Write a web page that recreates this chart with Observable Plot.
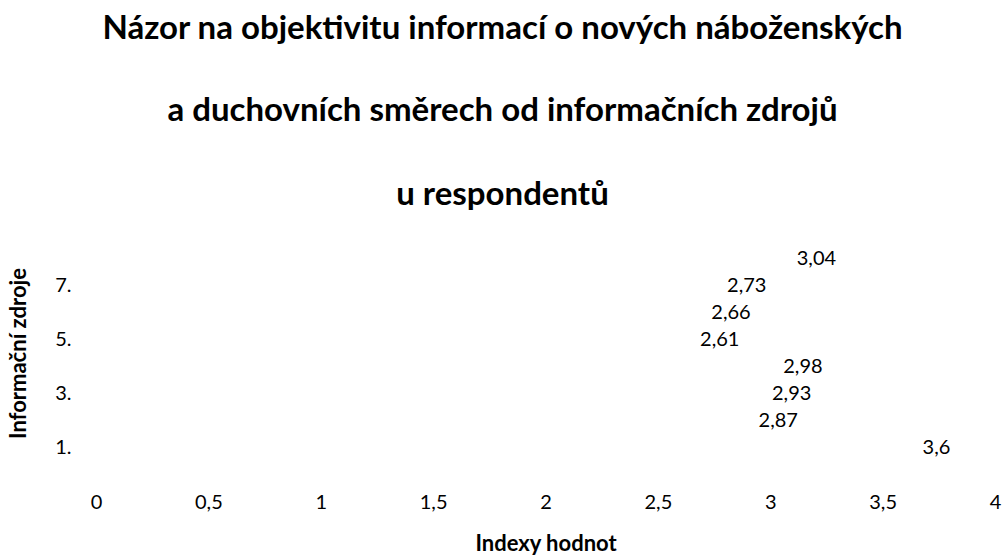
<!DOCTYPE html>
<html>
<head>
<meta charset="utf-8">
<script src="https://cdn.jsdelivr.net/npm/d3@7"></script>
<script src="https://cdn.jsdelivr.net/npm/@observablehq/plot@0.6"></script>
<style>
  html, body { margin: 0; padding: 0; background: #fff; }
  body { width: 1005px; height: 559px; overflow: hidden; font-family: Lato, "Open Sans", sans-serif; }
  #title { position: relative; height: 230px; width: 1005px; }
  #title div { position: absolute; left: 0; width: 1005px; text-align: center; font-weight: bold; font-size: 33px; line-height: 40px; color: #000; white-space: nowrap; }
</style>
</head>
<body>
<div id="title"></div>
<div id="chart"></div>
<script>
const titleLines = [
  "Názor na objektivitu informací o nových náboženských",
  "a duchovních směrech od informačních zdrojů",
  "u respondentů"
];
const categories = ["1.", "2.", "3.", "4.", "5.", "6.", "7.", "8."];
const values = [3.6, 2.87, 2.93, 2.98, 2.61, 2.66, 2.73, 3.04];
const yTicks = ["1.", "3.", "5.", "7."];
const xTicks = [0, 0.5, 1, 1.5, 2, 2.5, 3, 3.5, 4];
const xTitle = "Indexy hodnot";
const yTitle = "Informační zdroje";

const titleTops = [6, 88, 172];
const tEl = document.getElementById("title");
titleLines.forEach((t, i) => {
  const d = document.createElement("div");
  d.textContent = t;
  d.style.top = titleTops[i] + "px";
  tEl.appendChild(d);
});

const data = categories.map((c, i) => ({cat: c, value: values[i]}));
const fmt = v => String(v).replace(".", ",");

const chart = Plot.plot({
  width: 1005,
  height: 329,
  marginLeft: 96,
  marginRight: 10,
  marginTop: 11.6,
  marginBottom: 94.5,
  style: {fontFamily: "Lato, 'Open Sans', sans-serif", fontSize: "20px", color: "#000", background: "#fff"},
  x: {domain: [0, 4]},
  y: {domain: categories.slice().reverse(), padding: 0},
  marks: [
    Plot.axisX({ticks: xTicks, tickFormat: fmt, tickSize: 0, tickPadding: 30, fontSize: 20,
      label: xTitle, labelAnchor: "center", labelOffset: 86, labelArrow: "none"}),
    Plot.axisY({ticks: yTicks, tickSize: 0, tickPadding: 25, fontSize: 20,
      label: yTitle, labelAnchor: "center", labelOffset: 86, labelArrow: "none"}),
    Plot.barX(data, {x: "value", y: "cat", fill: "none"}),
    Plot.text(data, {x: "value", y: "cat", text: d => fmt(d.value), textAnchor: "start", dx: 17, fontSize: 20, fill: "#000"})
  ]
});
document.getElementById("chart").appendChild(chart);
chart.querySelectorAll("g[aria-label='x-axis label'] text, g[aria-label='y-axis label'] text").forEach(t => {
  t.style.fontWeight = "bold";
  t.style.fontSize = "22px";
});
</script>
</body>
</html>
